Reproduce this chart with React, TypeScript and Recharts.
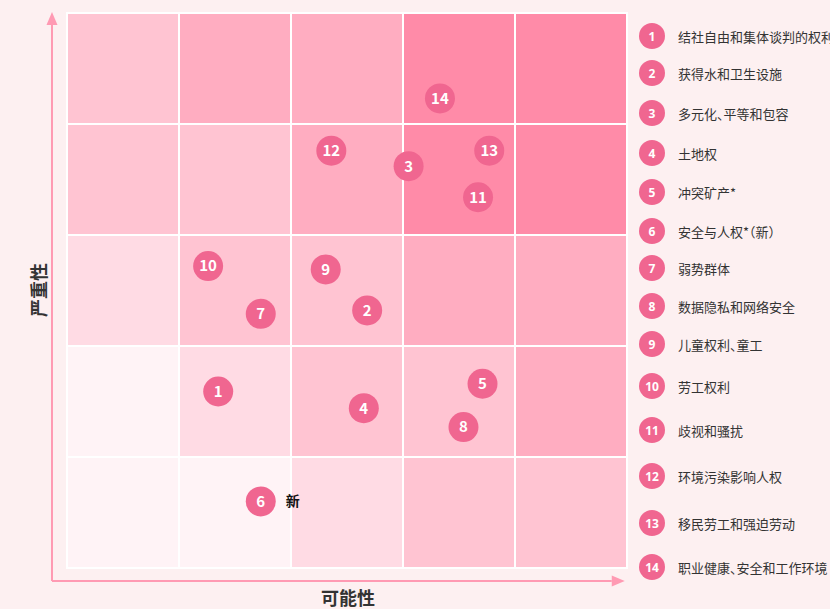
import React from 'react';
import { ScatterChart, Scatter, XAxis, YAxis, ReferenceArea, ReferenceLine } from 'recharts';

// issue names, in legend order (id = index + 1)
const ISSUES = [
  '结社自由和集体谈判的权利',
  '获得水和卫生设施',
  '多元化、平等和包容',
  '土地权',
  '冲突矿产*',
  '安全与人权*（新）',
  '弱势群体',
  '数据隐私和网络安全',
  '儿童权利、童工',
  '劳工权利',
  '歧视和骚扰',
  '环境污染影响人权',
  '移民劳工和强迫劳动',
  '职业健康、安全和工作环境',
];
const LIKELIHOOD = [1.35, 2.68, 3.05, 2.65, 3.71, 1.73, 1.73, 3.54, 2.31, 1.26, 3.67, 2.36, 3.77, 3.33];
const SEVERITY = [1.59, 2.32, 3.62, 1.44, 1.66, 0.6, 2.29, 1.27, 2.69, 2.72, 3.34, 3.76, 3.76, 4.23];
const NOTES = ['', '', '', '', '', '新', '', '', '', '', '', '', '', ''];

// risk level per cell; rows go from low severity (bottom) to high (top)
const LEVELS = [
  [0, 0, 1, 2, 2],
  [0, 1, 2, 2, 3],
  [1, 2, 2, 3, 3],
  [2, 2, 3, 4, 4],
  [2, 3, 3, 4, 4],
];
const LEVEL_COLORS = ['#fff3f6', '#ffdbe4', '#ffc4d2', '#ffadc1', '#ff8ba8'];

const BG = '#fdf0f1';
const DOT = '#f06690';
const AXIS = '#ff9ab3';
const TEXT = '#333';
const FONT = '"Noto Sans CJK SC", "Noto Sans", sans-serif';

// legend row centres (px)
const LEGEND_Y = [36, 73, 113, 153, 192, 231, 268, 306, 344, 386, 430, 476, 523, 567];

const points = ISSUES.map((name, i) => ({
  id: i + 1,
  name,
  x: LIKELIHOOD[i],
  y: SEVERITY[i],
  note: NOTES[i],
}));

const cells: { x: number; y: number; level: number }[] = [];
LEVELS.forEach((row, r) => row.forEach((level, c) => cells.push({ x: c, y: r, level })));

const Bubble = (props: any) => {
  const { cx, cy, payload } = props;
  return (
    <g>
      <circle cx={cx} cy={cy} r={15} fill={DOT} />
      <text x={cx} y={cy} dy="0.36em" textAnchor="middle" fill="#fff" fontSize={15} fontWeight={700} fontFamily={FONT}>
        {payload.id}
      </text>
      {payload.note ? (
        <text x={cx + 25} y={cy} dy="0.36em" fill="#111" fontSize={14} fontWeight={700} fontFamily={FONT}>
          {payload.note}
        </text>
      ) : null}
    </g>
  );
};

const Arrow = (props: any) => {
  const { x1, y1, x2, y2 } = props;
  const ang = Math.atan2(y2 - y1, x2 - x1);
  const len = 13;
  const half = 5.5;
  const bx = x2 - len * Math.cos(ang);
  const by = y2 - len * Math.sin(ang);
  const px = -Math.sin(ang) * half;
  const py = Math.cos(ang) * half;
  return (
    <g>
      <line x1={x1} y1={y1} x2={bx} y2={by} stroke={AXIS} strokeWidth={2} />
      <polygon points={`${x2},${y2} ${bx + px},${by + py} ${bx - px},${by - py}`} fill={AXIS} />
    </g>
  );
};

export default function App() {
  return (
    <div style={{ position: 'absolute', left: 0, top: 0, width: 830, height: 609, background: BG, overflow: 'hidden', fontFamily: FONT }}>
      <ScatterChart width={830} height={609} margin={{ top: 13, right: 203, bottom: 41, left: 67 }}>
        <XAxis type="number" dataKey="x" domain={[0, 5]} hide />
        <YAxis type="number" dataKey="y" domain={[0, 5]} hide />
        {cells.map(c => (
          <ReferenceArea
            key={`${c.x}-${c.y}`}
            x1={c.x}
            x2={c.x + 1}
            y1={c.y}
            y2={c.y + 1}
            fill={LEVEL_COLORS[c.level]}
            fillOpacity={1}
            stroke="#fff"
            strokeWidth={2}
            ifOverflow="visible"
          />
        ))}
        <ReferenceLine segment={[{ x: -0.134, y: -0.117 }, { x: -0.134, y: 5.01 }]} ifOverflow="visible" shape={Arrow} />
        <ReferenceLine segment={[{ x: -0.134, y: -0.117 }, { x: 4.98, y: -0.117 }]} ifOverflow="visible" shape={Arrow} />
        <Scatter data={points} shape={Bubble} isAnimationActive={false} />
      </ScatterChart>

      <div style={{ position: 'absolute', left: 318, top: 588, width: 60, lineHeight: '18px', textAlign: 'center', fontSize: 18, fontWeight: 700, color: TEXT, whiteSpace: 'nowrap' }}>
        可能性
      </div>
      <div
        style={{
          position: 'absolute', left: 8, top: 280, width: 60, lineHeight: '20px', textAlign: 'center', fontSize: 18, fontWeight: 700,
          color: TEXT, whiteSpace: 'nowrap', transform: 'rotate(-90deg)',
        }}
      >
        严重性
      </div>

      {points.map((p, i) => (
        <div key={p.id} style={{ position: 'absolute', left: 639, top: LEGEND_Y[i] - 13, height: 26, display: 'flex', alignItems: 'center', whiteSpace: 'nowrap' }}>
          <div
            style={{
              width: 26, height: 26, borderRadius: 13, background: DOT, color: '#fff', fontSize: 12, fontWeight: 700,
              display: 'flex', alignItems: 'center', justifyContent: 'center', fontFamily: '"Noto Sans", sans-serif',
            }}
          >
            {p.id}
          </div>
          <span style={{ marginLeft: 13, fontSize: 13, color: TEXT, fontFeatureSettings: '"halt"' }}>{p.name}</span>
        </div>
      ))}
    </div>
  );
}
